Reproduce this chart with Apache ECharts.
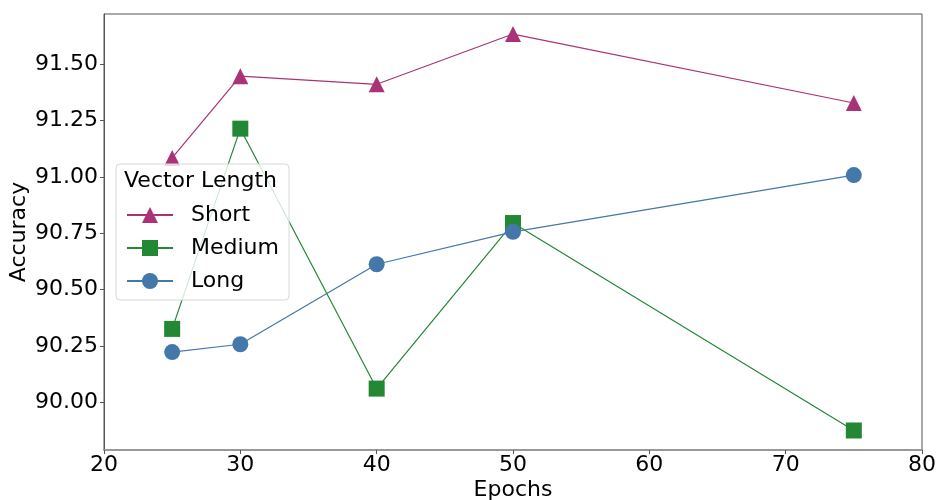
<!DOCTYPE html>
<html>
<head>
<meta charset="utf-8">
<script src="https://cdn.jsdelivr.net/npm/echarts@6/dist/echarts.min.js"></script>
<style>html,body{margin:0;padding:0;background:#fff;}#c{width:938px;height:500px;}</style>
</head>
<body>
<div id="c"></div>
<script>
const epochs = [25, 30, 40, 50, 75];
const shortVals = [91.084, 91.447, 91.411, 91.634, 91.328];
const mediumVals = [90.325, 91.214, 90.060, 90.795, 89.874];
const longVals = [90.222, 90.257, 90.612, 90.756, 91.008];
const yTicks = [90.00, 90.25, 90.50, 90.75, 91.00, 91.25, 91.50];
const xTicks = [20, 30, 40, 50, 60, 70, 80];
const seriesNames = ['Short', 'Medium', 'Long'];
const legendTitle = 'Vector Length';

const FONT = 'DejaVu Sans';
const chart = echarts.init(document.getElementById('c'), null, {renderer: 'canvas'});
const pair = v => epochs.map((e, i) => [e, v[i]]);
const colors = ['#AA3377', '#228833', '#4477AA'];
const symbols = ['triangle', 'rect', 'circle'];
const vals = [shortVals, mediumVals, longVals];

chart.setOption({
  animation: false,
  textStyle: {fontFamily: FONT},
  grid: {left: 104, right: 16, top: 14, bottom: 50, show: true, borderColor: '#555', borderWidth: 1,
    containLabel: false, outerBoundsMode: 'none'},
  xAxis: {
    type: 'value', min: 20, max: 80, interval: 10,
    name: 'Epochs', nameLocation: 'middle', nameGap: 29, nameMoveOverlap: false,
    nameTextStyle: {fontFamily: FONT, fontSize: 22, color: '#000'},
    axisLine: {show: true, lineStyle: {color: '#999', width: 2}},
    axisTick: {show: true, length: 4, lineStyle: {color: '#555'}},
    axisLabel: {fontFamily: FONT, fontSize: 22, color: '#000', margin: 4,
      customValues: xTicks},
    splitLine: {show: false}
  },
  yAxis: {
    type: 'value', min: 89.7874, max: 91.723,
    name: 'Accuracy', nameLocation: 'middle', nameGap: 74, nameRotate: 90, nameMoveOverlap: false,
    nameTextStyle: {fontFamily: FONT, fontSize: 22, color: '#000'},
    axisLine: {show: true, lineStyle: {color: '#555', width: 1}},
    axisTick: {show: true, length: 4, lineStyle: {color: '#555'}, customValues: yTicks},
    axisLabel: {fontFamily: FONT, fontSize: 22, color: '#000', margin: 6,
      customValues: yTicks, formatter: v => v.toFixed(2)},
    splitLine: {show: false}
  },
  legend: {
    orient: 'vertical', left: 126, top: 204, padding: 0,
    itemWidth: 46, itemHeight: 20, itemGap: 11,
    data: seriesNames,
    textStyle: {fontFamily: FONT, fontSize: 22, color: '#000', padding: [0, 0, 0, 13]}
  },
  graphic: [
    {type: 'rect', z: 3, shape: {x: 116, y: 164, width: 173, height: 136, r: 4},
      style: {fill: 'rgba(255,255,255,0.8)', stroke: '#d8d8d8', lineWidth: 1}},
    {type: 'text', z: 5, x: 124, y: 181,
      style: {text: legendTitle, font: '22px "DejaVu Sans"', fill: '#000', textVerticalAlign: 'middle'}}
  ],
  series: seriesNames.map((n, i) => ({
    name: n, type: 'line', data: pair(vals[i]),
    symbol: symbols[i], symbolSize: 16, showAllSymbol: true,
    itemStyle: {color: colors[i]},
    lineStyle: {color: colors[i], width: 1.2},
    z: 2 + i * 0.01
  }))
});
</script>
</body>
</html>
